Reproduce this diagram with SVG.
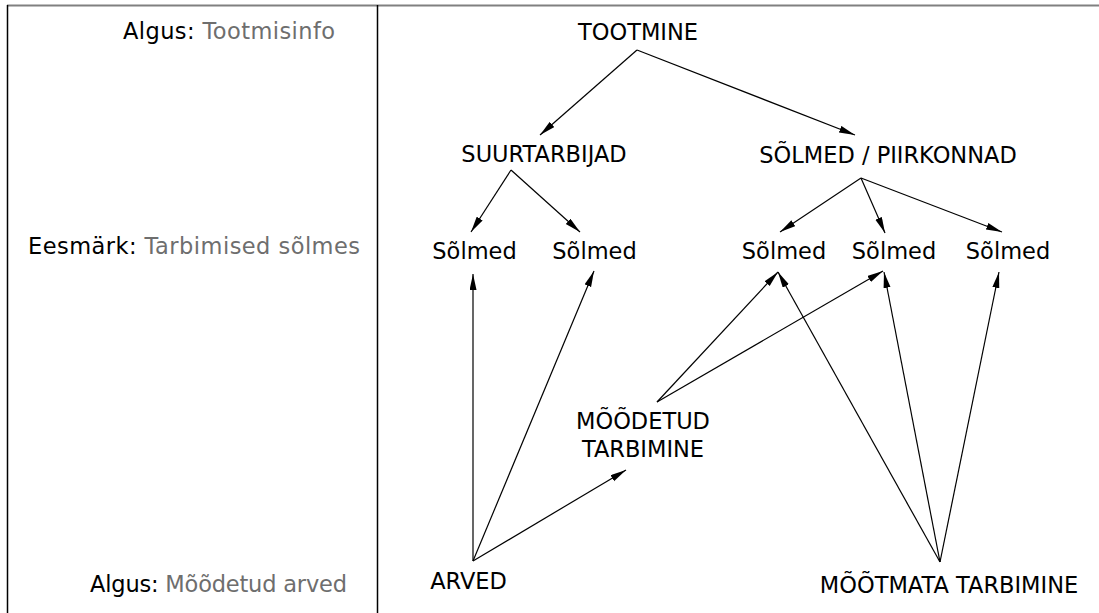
<svg xmlns="http://www.w3.org/2000/svg" width="1099" height="613" viewBox="0 0 1099 613">
  <style>
    text { font-family: "DejaVu Sans", Verdana, sans-serif; font-size: 22.5px; fill: #000; }
    .node text { text-anchor: middle; }
    .muted { fill: #6e6e6e; }
    .edge { stroke: #000; stroke-width: 1.2; fill: none; marker-end: url(#arrow); }
  </style>
  <defs>
    <marker id="arrow" markerUnits="userSpaceOnUse" markerWidth="17" markerHeight="8" refX="16" refY="3.5" orient="auto">
      <path d="M0,0 L16,3.5 L0,7 z" fill="#000"/>
    </marker>
  </defs>
  <rect width="1099" height="613" fill="#fff"/>

  <!-- frame -->
  <g id="frame">
    <line x1="7" y1="5.5" x2="1099" y2="5.5" stroke="#808080" stroke-width="2"/>
    <line x1="7.5" y1="5" x2="7.5" y2="613" stroke="#000" stroke-width="1.5"/>
    <line x1="377.5" y1="5" x2="377.5" y2="613" stroke="#000" stroke-width="1.5"/>
  </g>

  <!-- row captions -->
  <g id="captions">
    <text x="123" y="39" textLength="212" lengthAdjust="spacing">Algus: <tspan class="muted">Tootmisinfo</tspan></text>
    <text x="28" y="254" textLength="332" lengthAdjust="spacing">Eesmärk: <tspan class="muted">Tarbimised sõlmes</tspan></text>
    <text x="90" y="592" textLength="257" lengthAdjust="spacing">Algus: <tspan class="muted">Mõõdetud arved</tspan></text>
  </g>

  <!-- connectors -->
  <g id="connectors">
    <line class="edge" x1="637" y1="50" x2="540" y2="135"/>
    <line class="edge" x1="637" y1="50" x2="855" y2="135"/>
    <line class="edge" x1="511" y1="170" x2="471" y2="232"/>
    <line class="edge" x1="511" y1="170" x2="580" y2="232"/>
    <line class="edge" x1="861" y1="178" x2="780" y2="232"/>
    <line class="edge" x1="861" y1="178" x2="885" y2="233"/>
    <line class="edge" x1="861" y1="178" x2="1002" y2="232"/>
    <line class="edge" x1="473" y1="561" x2="473" y2="274"/>
    <line class="edge" x1="473" y1="561" x2="594" y2="271"/>
    <line class="edge" x1="473" y1="561" x2="626" y2="470"/>
    <line class="edge" x1="657" y1="402" x2="778" y2="272"/>
    <line class="edge" x1="657" y1="402" x2="883" y2="271"/>
    <line class="edge" x1="940" y1="562" x2="778" y2="272"/>
    <line class="edge" x1="940" y1="562" x2="884" y2="272"/>
    <line class="edge" x1="940" y1="562" x2="999" y2="272"/>
  </g>

  <!-- nodes -->
  <g id="n-tootmine" class="node"><text x="638" y="40">TOOTMINE</text></g>
  <g id="n-suurtarbijad" class="node"><text x="544" y="162">SUURTARBIJAD</text></g>
  <g id="n-piirkonnad" class="node"><text x="888" y="163">SÕLMED / PIIRKONNAD</text></g>
  <g id="n-solmed-1" class="node"><text x="474.5" y="259">Sõlmed</text></g>
  <g id="n-solmed-2" class="node"><text x="594.5" y="259">Sõlmed</text></g>
  <g id="n-solmed-3" class="node"><text x="784" y="259">Sõlmed</text></g>
  <g id="n-solmed-4" class="node"><text x="894" y="259">Sõlmed</text></g>
  <g id="n-solmed-5" class="node"><text x="1008" y="259">Sõlmed</text></g>
  <g id="n-moodetud" class="node"><text x="643" y="429">MÕÕDETUD</text><text x="643" y="457">TARBIMINE</text></g>
  <g id="n-arved" class="node"><text x="468.5" y="589">ARVED</text></g>
  <g id="n-moootmata" class="node"><text x="949" y="593">MÕÕTMATA TARBIMINE</text></g>
</svg>
